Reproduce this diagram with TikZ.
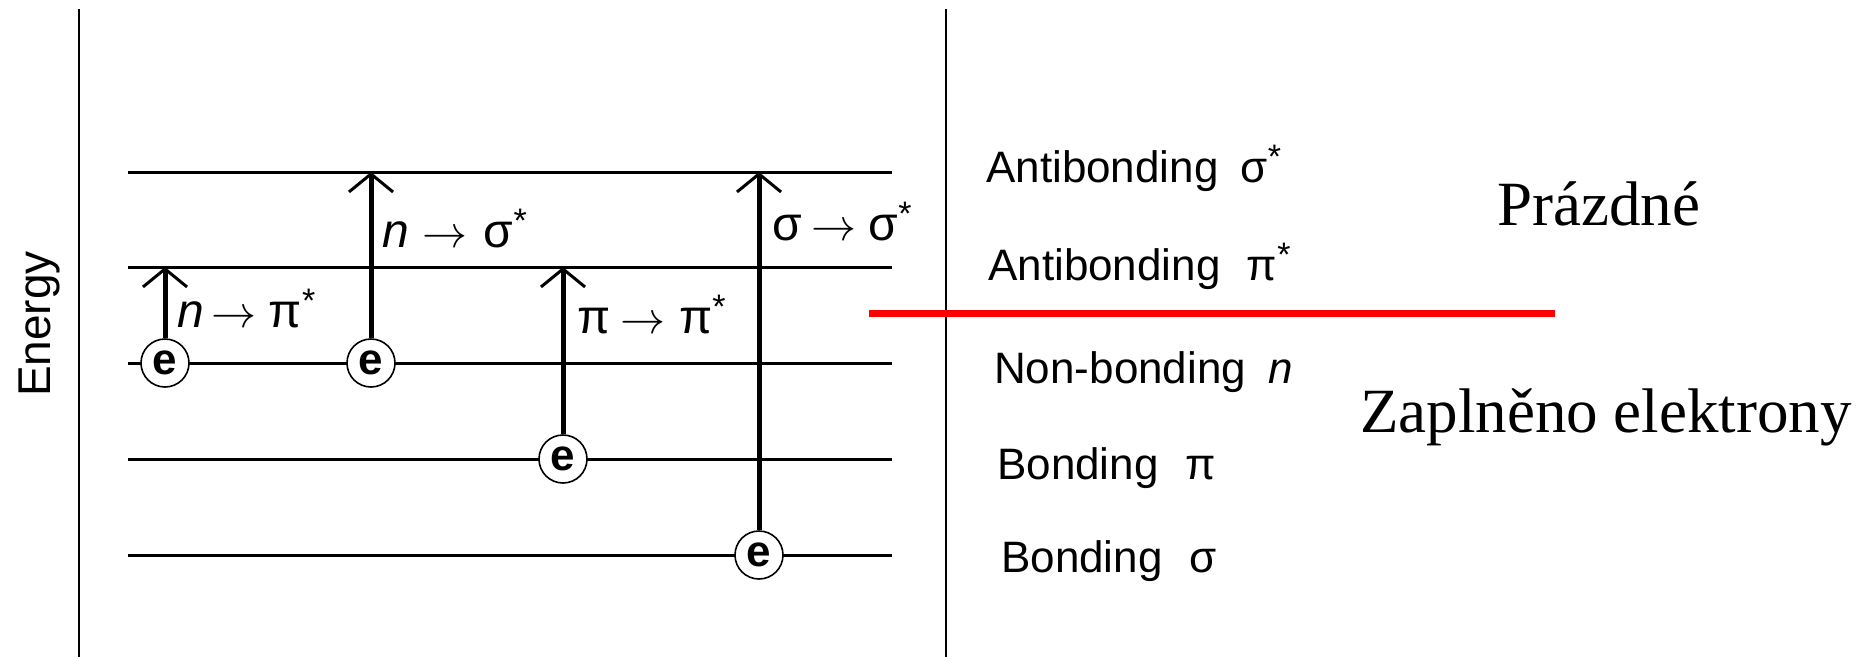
\documentclass[tikz,border=0pt]{standalone}
\usepackage{graphicx}
\usepackage{fontspec}
\setmainfont{Liberation Sans}
\newfontfamily\seriffont{Liberation Serif}
\usetikzlibrary{arrows.meta}
\newcommand{\upstar}[1]{\raisebox{#1}{\fontsize{34}{34}\selectfont *}}
\newcommand{\arr}{\scalebox{4.5}{\fontsize{10}{10}\selectfont$\rightarrow$}}
\begin{document}
\begin{tikzpicture}[x=1pt,y=-1pt,
  level/.style={line width=3pt},
  border/.style={line width=2.5pt},
  electron/.style={circle,draw,line width=1.6pt,fill=white,minimum size=48pt,inner sep=0pt,
    font=\fontsize{44}{44}\selectfont\bfseries},
  excite/.style={line width=5pt,-{Straight Barb[length=18pt,width=44pt,line width=3pt]}},
  trans/.style={anchor=base west,inner sep=0pt,font=\fontsize{48}{48}\selectfont},
  orb/.style={anchor=base west,inner sep=0pt,font=\fontsize{44}{44}\selectfont},
  big/.style={anchor=base west,inner sep=0pt,font=\seriffont\fontsize{63}{63}\selectfont},
  fillline/.style={red,line width=7pt},
]
\useasboundingbox (0,0) rectangle (1864,657);
\fill[white] (0,0) rectangle (1864,657);
% borders
\coordinate (B1t) at (79,9); \coordinate (B1b) at (79,657);
\coordinate (B2t) at (946,9); \coordinate (B2b) at (946,657);
\draw[border] (B1t) -- (B1b);
\draw[border] (B2t) -- (B2b);
% levels
\foreach \n/\y in {1/172,2/267,3/363,4/459,5/555}{
  \coordinate (L\n w) at (128,\y);
  \coordinate (L\n e) at (892,\y);
  \draw[level] (L\n w) -- (L\n e);
}
% electrons
\node[electron] (e1) at (165,363) {e};
\node[electron] (e2) at (371,363) {e};
\node[electron] (e3) at (563,459) {e};
\node[electron] (e4) at (759,555) {e};
% transitions
\draw[excite] (e1.north) -- (e1.north |- L2w);
\draw[excite] (e2.north) -- (e2.north |- L1w);
\draw[excite] (e3.north) -- (e3.north |- L2w);
\draw[excite] (e4.north) -- (e4.north |- L1w);
% transition labels
\node[trans] (t1) at (177,327) {\textit{n}\hspace{8pt}\arr\hspace{12pt}π\upstar{15pt}};
\node[trans] (t2) at (382,247) {\textit{n}\hspace{14pt}\arr\hspace{16pt}σ\upstar{15pt}};
\node[trans] (t3) at (577,333) {π\hspace{10pt}\arr\hspace{14pt}π\upstar{15pt}};
\node[trans] (t4) at (772,240) {σ\hspace{10pt}\arr\hspace{12pt}σ\upstar{15pt}};
% orbital labels
\node[orb] (o1) at (986,182) {Antibonding\hspace{0.5em}σ\upstar{14pt}};
\node[orb] (o2) at (988,280) {Antibonding\hspace{0.6em}π\upstar{14pt}};
\node[orb] (o3) at (994,383) {Non-bonding\hspace{0.5em}\textit{n}};
\node[orb] (o4) at (997,479) {Bonding\hspace{0.6em}π};
\node[orb] (o5) at (1001,572) {Bonding\hspace{0.6em}σ};
% separator
\coordinate (R1) at (869,313); \coordinate (R2) at (1555,313);
\draw[fillline] (R1) -- (R2);
\node[big] (empty) at (1497,225) {Prázdné};
\node[big] (full) at (1360,432) {Zaplněno elektrony};
% axis label
\node[rotate=90,anchor=base,inner sep=0pt,font=\fontsize{46}{46}\selectfont] (energy) at (50,324) {Energy};
\end{tikzpicture}
\end{document}
